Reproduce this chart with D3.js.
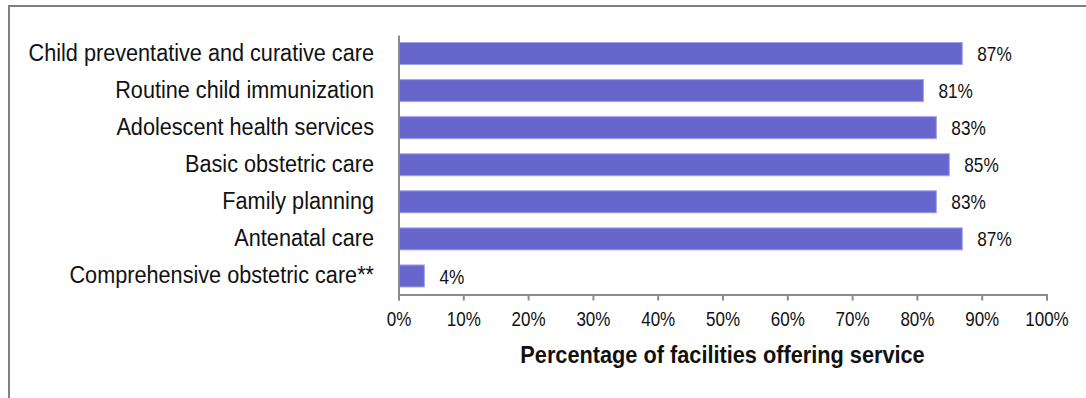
<!DOCTYPE html>
<html>
<head>
<meta charset="utf-8">
<script src="https://cdn.jsdelivr.net/npm/d3@7"></script>
<style>
  html, body { margin: 0; padding: 0; background: #fff; }
  svg { display: block; }
  text { font-family: "Liberation Sans", Arial, sans-serif; fill: #111; }
</style>
</head>
<body>
<svg id="chart" width="1086" height="398"></svg>
<script>
// Services offered by facilities, share in percent
const categories = [
  "Child preventative and curative care",
  "Routine child immunization",
  "Adolescent health services",
  "Basic obstetric care",
  "Family planning",
  "Antenatal care",
  "Comprehensive obstetric care**"
];
const values = [87, 81, 83, 85, 83, 87, 4];
const tickValues = [0, 10, 20, 30, 40, 50, 60, 70, 80, 90, 100];
const axisTitle = "Percentage of facilities offering service";

const svg = d3.select("#chart");

const plot = { left: 398.5, right: 1046.5, top: 35, bottom: 294.5 };

const x = d3.scaleLinear().domain([0, 100]).range([plot.left, plot.right]);
const y = d3.scaleBand()
  .domain(categories)
  .range([plot.top, plot.bottom])
  .paddingInner(0.406)
  .paddingOuter(0.203);

// condensed text: place at (px, py) and squeeze horizontally
const squeeze = (px, py, s) => `translate(${px},${py}) scale(${s},1)`;

// outer frame (top and left edges)
svg.append("path")
  .attr("d", "M9,398 V6 H1086")
  .attr("fill", "none")
  .attr("stroke", "#808080")
  .attr("stroke-width", 2);

// bars
svg.append("g").selectAll("rect")
  .data(values)
  .join("rect")
  .attr("x", x(0))
  .attr("y", (d, i) => y(categories[i]))
  .attr("width", d => x(d) - x(0))
  .attr("height", y.bandwidth())
  .attr("fill", "#6666cc")
  .attr("stroke", "#a3a3e6")
  .attr("stroke-width", 1);

// value labels
svg.append("g").selectAll("text")
  .data(values)
  .join("text")
  .attr("transform", (d, i) => squeeze(x(d) + 15, y(categories[i]) + y.bandwidth() / 2, 0.82))
  .attr("dy", "0.36em")
  .attr("font-size", 21)
  .text(d => d + "%");

// x axis
const xAxis = d3.axisBottom(x)
  .tickValues(tickValues)
  .tickFormat(d => d + "%")
  .tickSize(6)
  .tickPadding(11);

const gx = svg.append("g")
  .attr("transform", `translate(0,${plot.bottom})`)
  .call(xAxis);
gx.select(".domain").attr("stroke", "#8c8c8c").attr("stroke-width", 2);
gx.selectAll(".tick line").attr("stroke", "#8c8c8c").attr("stroke-width", 2);
gx.selectAll(".tick text")
  .attr("font-size", 21)
  .attr("font-family", null)
  .attr("fill", "#111")
  .attr("transform", "scale(0.81,1)");

// y axis line with category labels
const yAxis = d3.axisLeft(y).tickSize(0).tickPadding(0);
const gy = svg.append("g")
  .attr("transform", `translate(${plot.left},0)`)
  .call(yAxis);
gy.select(".domain").attr("stroke", "#8c8c8c").attr("stroke-width", 2);
gy.selectAll(".tick text")
  .attr("x", null)
  .attr("font-size", 23.3)
  .attr("font-family", null)
  .attr("fill", "#111")
  .attr("transform", squeeze(-24.5, 0, 0.93));

// axis title
svg.append("text")
  .attr("transform", squeeze((plot.left + plot.right) / 2, 363, 0.945))
  .attr("text-anchor", "middle")
  .attr("font-size", 23)
  .attr("font-weight", "bold")
  .text(axisTitle);
</script>
</body>
</html>
